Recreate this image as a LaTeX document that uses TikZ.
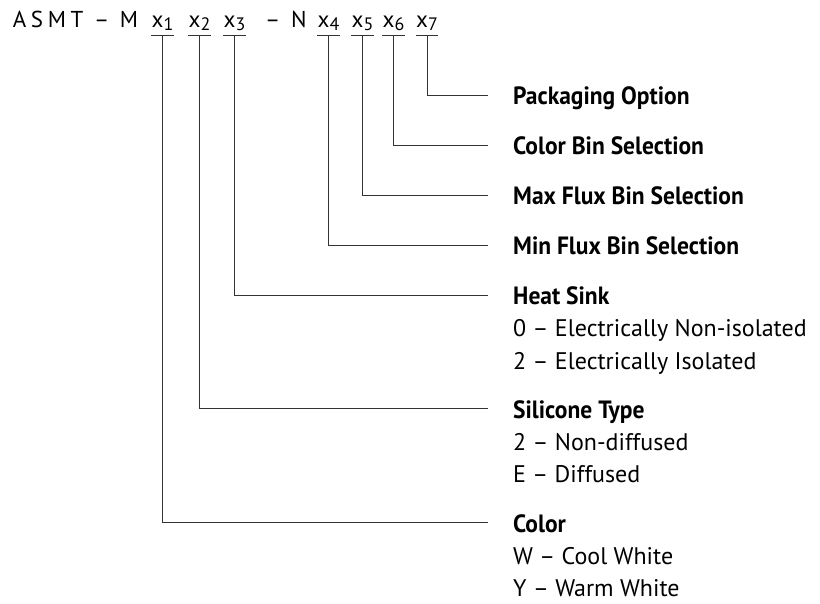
\documentclass[tikz,border=0pt]{standalone}
\usepackage{fontspec}
\setmainfont{PT Sans}
\newfontfamily\codefont[LetterSpace=20]{PT Sans}
\newfontfamily\headfont[FakeStretch=0.94]{PT Sans}
\usetikzlibrary{positioning}
\newcommand{\xsub}[1]{x\raisebox{-3pt}{\fontsize{18}{18}\selectfont#1}}

\begin{document}
\begin{tikzpicture}[x=1pt, y=-1pt,
		% Style definitions - pixel grid, y runs downwards
		title/.style={font=\codefont\fontsize{23}{23}\selectfont, inner sep=0pt, anchor=base west},
		code/.style={font=\fontsize{23}{23}\selectfont, inner sep=0pt, text depth=7pt, anchor=base},
		head/.style={font=\headfont\bfseries\fontsize{25}{25}\selectfont, inner sep=0pt, anchor=base west},
		item/.style={font=\fontsize{24}{24}\selectfont, inner sep=0pt, anchor=base west},
		lead/.style={draw=black!80, line width=0.9pt},
		]
		\useasboundingbox (0,0) rectangle (820,604);

		% Part number
		\node[title] (asmt) at (12.7,28) {ASMT – M};
		\node[title] (dashn) at (265,28) {– N};
		\node[code] (x1) at (162.5,28) {\xsub{1}};
		\node[code] (x2) at (199.5,28) {\xsub{2}};
		\node[code] (x3) at (234.5,28) {\xsub{3}};
		\node[code] (x4) at (328.5,28) {\xsub{4}};
		\node[code] (x5) at (362.5,28) {\xsub{5}};
		\node[code] (x6) at (393.5,28) {\xsub{6}};
		\node[code] (x7) at (427,28) {\xsub{7}};

		% Field headings
		\node[head] (pack) at (513,105) {Packaging Option};
		\node[head] (cbin) at (513,155) {Color Bin Selection};
		\node[head] (maxf) at (513,205) {Max Flux Bin Selection};
		\node[head] (minf) at (513,255) {Min Flux Bin Selection};
		\node[head] (sink) at (513,305) {Heat Sink};
		\node[head] (sili) at (513,418) {Silicone Type};
		\node[head] (colr) at (513,532) {Color};

		% Field values
		\node[item] (sink0) at (513,337) {0 – Electrically Non-isolated};
		\node[item] (sink2) at (513,369) {2 – Electrically Isolated};
		\node[item] (sili2) at (513,450) {2 – Non-diffused};
		\node[item] (siliE) at (513,482) {E – Diffused};
		\node[item] (colrW) at (513,564) {W – Cool White};
		\node[item] (colrY) at (513,596) {Y – Warm White};

		% Tick bars under each digit
		\foreach \i in {1,...,7}
			\draw[lead] (x\i.south west) -- (x\i.south east);

		% Leaders to the headings
		\draw[lead] (x7.south) |- ([shift={(-25pt,10pt)}]pack.base west);
		\draw[lead] (x6.south) |- ([shift={(-25pt,10pt)}]cbin.base west);
		\draw[lead] (x5.south) |- ([shift={(-25pt,10pt)}]maxf.base west);
		\draw[lead] (x4.south) |- ([shift={(-25pt,10pt)}]minf.base west);
		\draw[lead] (x3.south) |- ([shift={(-25pt,10pt)}]sink.base west);
		\draw[lead] (x2.south) |- ([shift={(-25pt,10pt)}]sili.base west);
		\draw[lead] (x1.south) |- ([shift={(-25pt,10pt)}]colr.base west);

	\end{tikzpicture}
\end{document}
